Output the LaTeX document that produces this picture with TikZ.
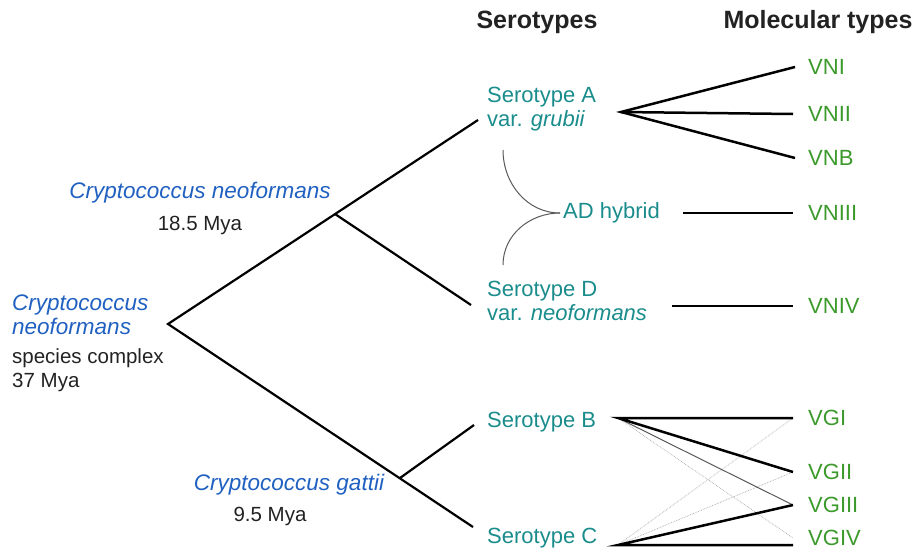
\documentclass[tikz,border=0pt]{standalone}
\usepackage{fontspec}
\setmainfont{Liberation Sans}
\usetikzlibrary{positioning, calc}
\definecolor{SeroTeal}{HTML}{1A8C8C}
\definecolor{MolGreen}{HTML}{3C9A2C}
\definecolor{SpeciesBlue}{HTML}{2060C0}
\definecolor{Charcoal}{HTML}{222222}

\begin{document}
\begin{tikzpicture}[x=1pt, y=-1pt,
    sero/.style={anchor=west, align=left, inner sep=0pt, color=SeroTeal, font=\fontsize{22}{24}\selectfont},
    mol/.style={anchor=west, inner sep=0pt, color=MolGreen, font=\fontsize{22}{24}\selectfont},
    species/.style={inner sep=0pt, color=SpeciesBlue, font=\fontsize{22.5}{24}\selectfont\itshape},
    age/.style={inner sep=0pt, color=Charcoal, font=\fontsize{20.5}{24}\selectfont},
    head/.style={inner sep=0pt, color=Charcoal, font=\fontsize{25}{28}\selectfont\bfseries},
    branch/.style={line width=2.2pt, color=black},
    link/.style={line width=2.5pt, color=black},
    weak/.style={line width=1pt, color=gray!70!black},
    rare/.style={line width=0.7pt, color=gray!70, densely dotted}]
    \useasboundingbox (0,0) rectangle (917,551);

    % headings
    \node[head] (hsero) at (537,22) {Serotypes};
    \node[head] (hmol) at (818,22) {Molecular types};

    % species labels
    \node[species] (cnvar) at (200,193) {Cryptococcus neoformans};
    \node[age] (cnage) at (200,225) {18.5 Mya};
    \node[species, anchor=west, align=left] (cncx) at (12,315) {Cryptococcus\\neoformans};
    \node[age, anchor=west, align=left] (cxage) at (12,370) {species complex\\37 Mya};
    \node[species] (cg) at (289,485) {Cryptococcus gattii};
    \node[age] (cgage) at (270,516) {9.5 Mya};

    % serotypes
    \node[sero] (serA) at (487,109) {Serotype A\\var. \textit{grubii}};
    \node[sero] (serD) at (487,301) {Serotype D\\var. \textit{neoformans}};
    \node[sero] (adhyb) at (563,213) {AD hybrid};
    \node[sero] (serB) at (487,422) {Serotype B};
    \node[sero] (serC) at (487,538) {Serotype C};

    % molecular types
    \node[mol] (vni) at (808,67) {VNI};
    \node[mol] (vnii) at (808,114) {VNII};
    \node[mol] (vnb) at (808,158) {VNB};
    \node[mol] (vniii) at (808,213) {VNIII};
    \node[mol] (vniv) at (808,306) {VNIV};
    \node[mol] (vgi) at (808,418) {VGI};
    \node[mol] (vgii) at (808,472) {VGII};
    \node[mol] (vgiii) at (808,505) {VGIII};
    \node[mol] (vgiv) at (808,538) {VGIV};

    % tree
    \coordinate (root) at (168,324);
    \coordinate (splitN) at (335,214);
    \coordinate (splitG) at (400,478);
    \coordinate (tipA) at (478,120);
    \coordinate (tipD) at (471,305);
    \coordinate (tipB) at (474,425);
    \coordinate (tipC) at (473,527);
    \draw[branch] (tipA) -- (root) -- (tipC);
    \draw[branch] (splitN) -- (tipD);
    \draw[branch] (splitG) -- (tipB);

    % hybrid
    \coordinate (hybA) at (503,150);
    \coordinate (hybD) at (503,265);
    \draw[weak] (hybA) to[out=-90, in=180] ([xshift=-3pt]adhyb.west);
    \draw[weak] (hybD) to[out=90, in=180] ([xshift=-3pt]adhyb.west);

    % serotype -> molecular type
    \coordinate (hubA) at (621,112);
    \coordinate (hubAD) at (683,213);
    \coordinate (hubD) at (672,306);
    \coordinate (hubB) at (618,418);
    \coordinate (hubC) at (618,545);
    \draw[link] ([xshift=-13pt]vni.west) -- (hubA) -- ([xshift=-13pt]vnb.west);
    \draw[link] (hubA) -- ([xshift=-15pt]vnii.west);
    \draw[link] (hubAD) -- ([xshift=-15pt]vniii.west);
    \draw[link] (hubD) -- ([xshift=-15pt]vniv.west);

    \draw[rare] (hubB) -- ([xshift=-15pt]vgiv.west);
    \draw[rare] (hubC) -- ([xshift=-15pt]vgi.west);
    \draw[rare] (hubC) -- ([xshift=-15pt]vgii.west);
    \draw[weak] (hubB) -- ([xshift=-15pt]vgiii.west);
    \draw[link] ([xshift=-15pt]vgi.west) -- (hubB) -- ([xshift=-15pt]vgii.west);
    \draw[link] ([xshift=-15pt]vgiii.west) -- (hubC) -- ([xshift=-15pt,yshift=-7pt]vgiv.west);
\end{tikzpicture}
\end{document}
